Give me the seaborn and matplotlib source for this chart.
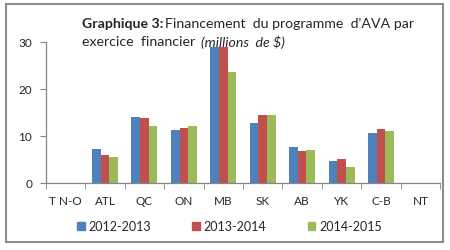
import pandas as pd
import matplotlib
matplotlib.use("Agg")
import matplotlib.pyplot as plt
import matplotlib.patches as mpatches
from matplotlib.ticker import FixedLocator
import seaborn as sns

# ── data ──────────────────────────────────────────────────────────────────────
regions = ["T N-O", "ATL", "QC", "ON", "MB", "SK", "AB", "YK", "C-B", "NT"]
years = ["2012-2013", "2013-2014", "2014-2015"]
fy_2012 = [0, 7.2, 14.0, 11.2, 28.9, 12.8, 7.7, 4.6, 10.7, 0]
fy_2013 = [0, 6.0, 13.8, 11.6, 28.9, 14.5, 6.7, 5.0, 11.4, 0]
fy_2014 = [0, 5.5, 12.1, 12.1, 23.5, 14.5, 7.0, 3.3, 11.0, 0]

COLOURS = ["#4F81BD", "#C0504D", "#9BBB59"]

df = pd.DataFrame({
    "region": regions * 3,
    "year": [years[0]] * 10 + [years[1]] * 10 + [years[2]] * 10,
    "value": fy_2012 + fy_2013 + fy_2014,
})

# ── style ─────────────────────────────────────────────────────────────────────
sns.set_style("white")
plt.rcParams["font.family"] = ["Lato", "DejaVu Sans"]

fig = plt.figure(figsize=(4.5, 2.51), dpi=100)
ax = fig.add_axes([0.102, 0.267, 0.876, 0.562])

sns.barplot(data=df, x="region", y="value", hue="year", order=regions,
            hue_order=years, palette=COLOURS, width=0.66, ax=ax,
            saturation=1, legend=False, linewidth=0)

ax.set_ylim(0, 30)
ax.set_xlim(-0.5, 9.5)
ax.set_yticks([0, 10, 20, 30])
ax.set_xlabel("")
ax.set_ylabel("")
for s in ["top", "right"]:
    ax.spines[s].set_visible(False)
for s in ["left", "bottom"]:
    ax.spines[s].set_color("#868686")
    ax.spines[s].set_linewidth(0.9)
ax.tick_params(axis="y", length=4, color="#868686", labelsize=8.5, pad=6,
               left=True, direction="out")
ax.tick_params(axis="x", which="major", length=0, labelsize=8.5, pad=9)
ax.xaxis.set_minor_locator(FixedLocator([i - 0.5 for i in range(11)]))
ax.tick_params(axis="x", which="minor", length=4, color="#868686",
               bottom=True, direction="out")

# legend
handles = [mpatches.Patch(color=c, label=y) for c, y in zip(COLOURS, years)]
fig.legend(handles=handles, loc="center", bbox_to_anchor=(0.51, 0.095),
           ncol=3, frameon=False, fontsize=9, handlelength=0.6,
           handleheight=0.6, handletextpad=0.3, columnspacing=3.3)

# title with mixed styles
renderer = fig.canvas.get_renderer()
def put(x_px, y_px, s, **kw):
    t = fig.text(x_px / 450, 1 - y_px / 251, s, fontsize=10.2, va="center",
                 ha="left", **kw)
    bb = t.get_window_extent(renderer=renderer)
    return bb.x1

x = put(82, 24, "Graphique 3:", fontweight="bold")
put(x + 2, 24, "Financement  du programme  d'AVA par")
x = put(82, 42, "exercice  financier ")
put(x + 2, 42, "(millions  de $)", fontstyle="italic")

# outer border
fig.patches.append(mpatches.Rectangle((6 / 450, 8 / 251), 437 / 450, 238 / 251,
                                      transform=fig.transFigure, fill=False,
                                      edgecolor="#8c8c8c", linewidth=1.5))

fig.savefig("out.png", dpi=100)
